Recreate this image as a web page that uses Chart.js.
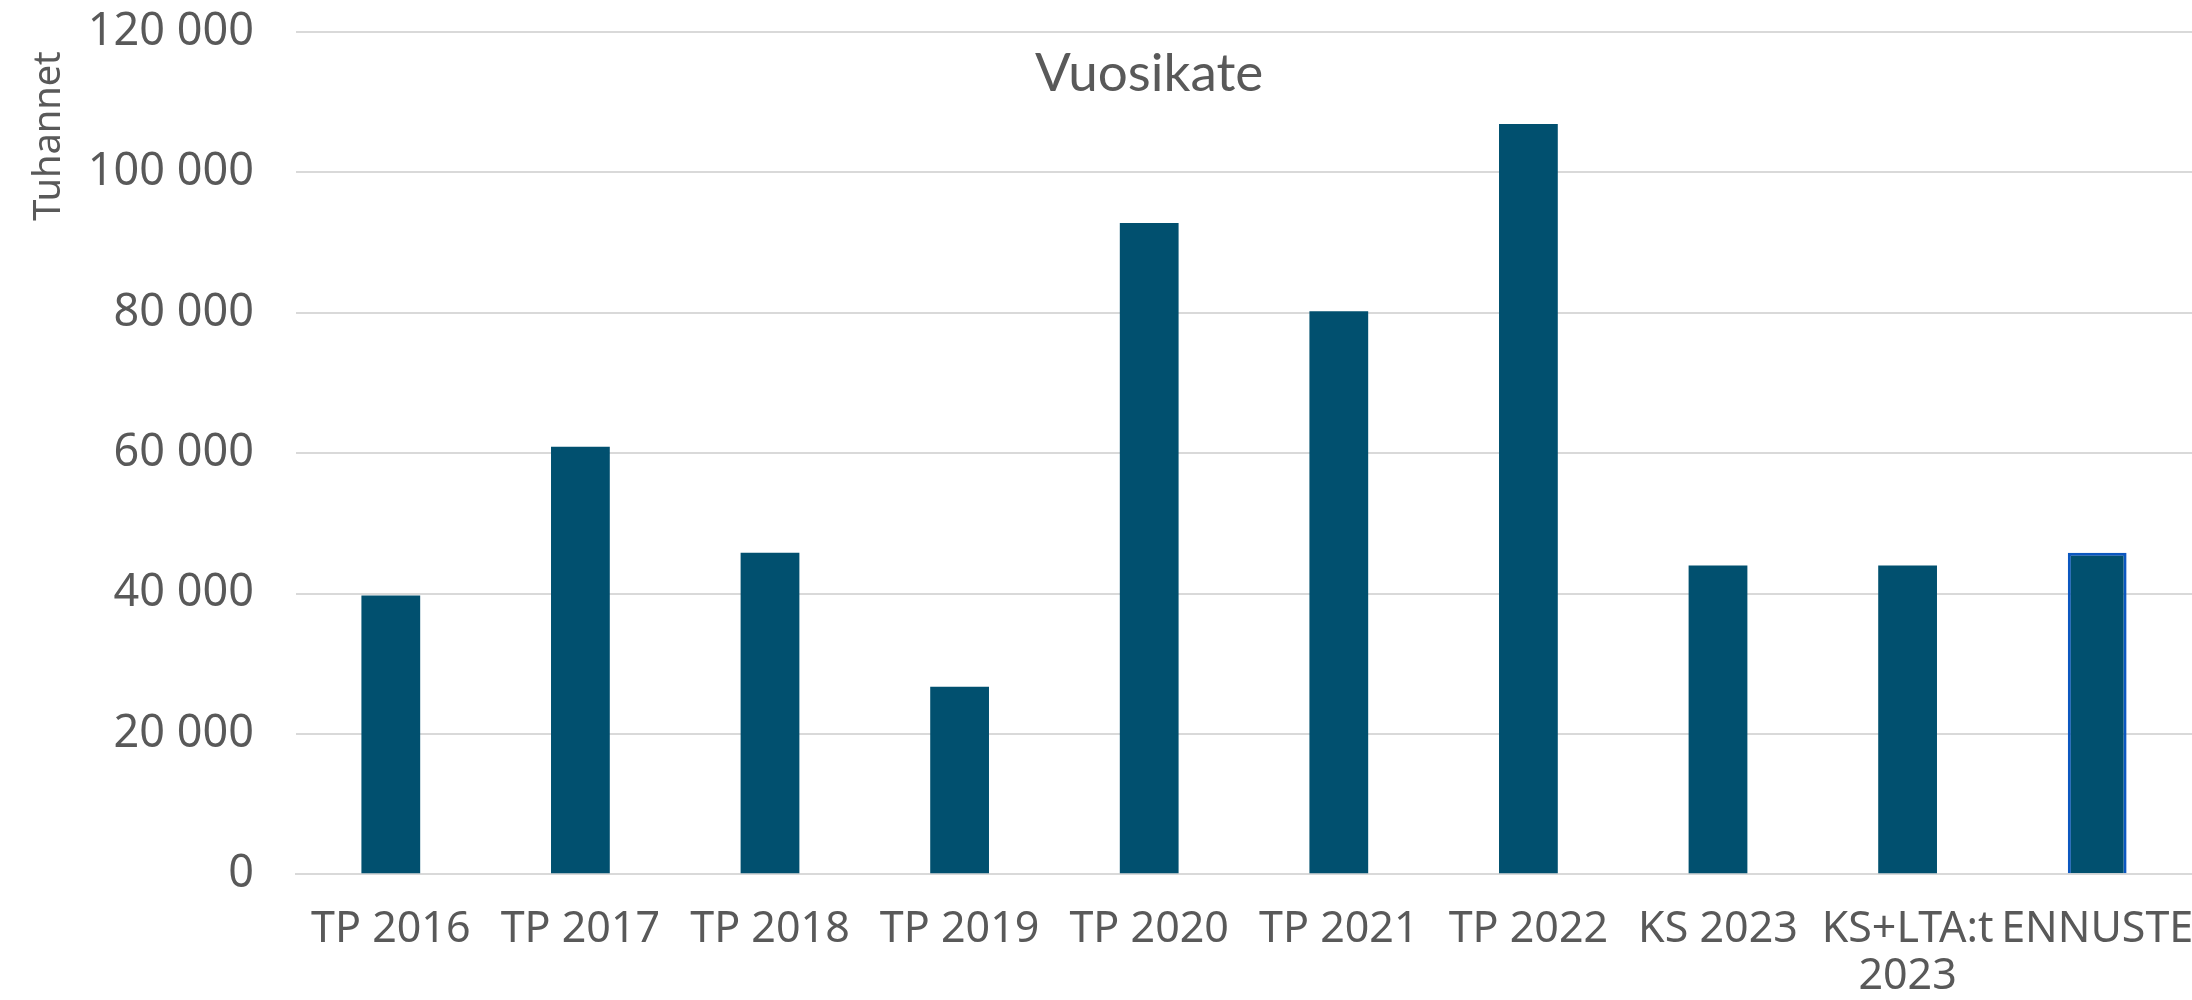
<!DOCTYPE html>
<html lang="fi">
<head>
<meta charset="utf-8">
<title>Vuosikate</title>
<script src="https://cdn.jsdelivr.net/npm/chart.js@4.4.1/dist/chart.umd.min.js"></script>
<style>
  html, body { margin: 0; padding: 0; background: #fff; }
  .chart-wrap { width: 2192px; height: 1000px; }
</style>
</head>
<body>
<div class="chart-wrap">
  <canvas id="vuosikate" width="2192" height="1000"></canvas>
</div>
<script>
// 데이터 /////////////////////////////////////////////////
const categories = ['TP 2016', 'TP 2017', 'TP 2018', 'TP 2019', 'TP 2020', 'TP 2021', 'TP 2022', 'KS 2023', ['KS+LTA:t', '2023'], 'ENNUSTE'];
const values = [39700, 60900, 45800, 26700, 92800, 80200, 106900, 44000, 44000, 45800];
const yTicks = [0, 20000, 40000, 60000, 80000, 100000, 120000];

const barColor = '#01506f';
const forecastBorder = '#0b57c0';
const textColor = '#595959';
const xTickPad = 32;

// 천 단위 공백 구분 (120 000)
const fmt = (v) => String(v).replace(/\B(?=(\d{3})+(?!\d))/g, ' ');

// 차트 제목 + 축 제목 : 플롯 영역 기준으로 직접 그림
const innerTitle = {
  id: 'innerTitle',
  afterDraw(chart) {
    const { ctx, chartArea } = chart;
    ctx.save();
    ctx.fillStyle = textColor;
    ctx.textAlign = 'center';
    ctx.textBaseline = 'middle';

    ctx.font = '53px Lato';
    ctx.fillText('Vuosikate', chartArea.left + chartArea.width * 0.45, chartArea.top + 42);

    // 세로 축 제목 (위쪽 정렬)
    ctx.font = '38px "Noto Sans"';
    ctx.translate(chartArea.left - 247, chartArea.top + 104);
    ctx.rotate(-Math.PI / 2);
    ctx.fillText('Tuhannet', 0, 0);
    ctx.restore();
  }
};

new Chart(document.getElementById('vuosikate'), {
  type: 'bar',
  data: {
    labels: categories,
    datasets: [{
      data: values,
      backgroundColor: barColor,
      // 마지막(ENNUSTE) 막대만 파란 테두리
      borderColor: values.map((v, i) => i === values.length - 1 ? forecastBorder : barColor),
      borderWidth: values.map((v, i) => i === values.length - 1 ? 3 : 0),
      categoryPercentage: 1,
      barPercentage: 0.31
    }]
  },
  options: {
    responsive: false,
    devicePixelRatio: 1,
    animation: false,
    layout: { padding: { top: 32, right: 0, bottom: 0, left: 0 } },
    plugins: {
      legend: { display: false },
      tooltip: { enabled: false },
      title: { display: false }
    },
    scales: {
      x: {
        // 라벨 폭 때문에 생기는 좌우 여백 제거, padding 이중 계산분 빼기
        afterFit: (scale) => {
          scale.paddingLeft = 0;
          scale.paddingRight = 0;
          scale.height -= xTickPad;
        },
        grid: { display: false, drawTicks: false },
        border: { display: true, color: '#d9d9d9', width: 2 },
        ticks: {
          color: textColor,
          font: { family: '"Noto Sans"', size: 43, lineHeight: 1.09 },
          padding: xTickPad,
          maxRotation: 0,
          autoSkip: false
        }
      },
      y: {
        min: 0,
        max: 120000,
        afterBuildTicks: (scale) => { scale.ticks = yTicks.map(v => ({ value: v })); },
        afterFit: (scale) => {
          scale.width = 296;
          scale.paddingTop = 0;
          scale.paddingBottom = 0;
        },
        grid: { color: '#d9d9d9', lineWidth: 2, drawTicks: false },
        border: { display: false },
        ticks: {
          color: textColor,
          font: { family: '"Noto Sans"', size: 45 },
          padding: 42,
          callback: (v) => fmt(v)
        }
      }
    }
  },
  plugins: [innerTitle]
});
</script>
</body>
</html>
